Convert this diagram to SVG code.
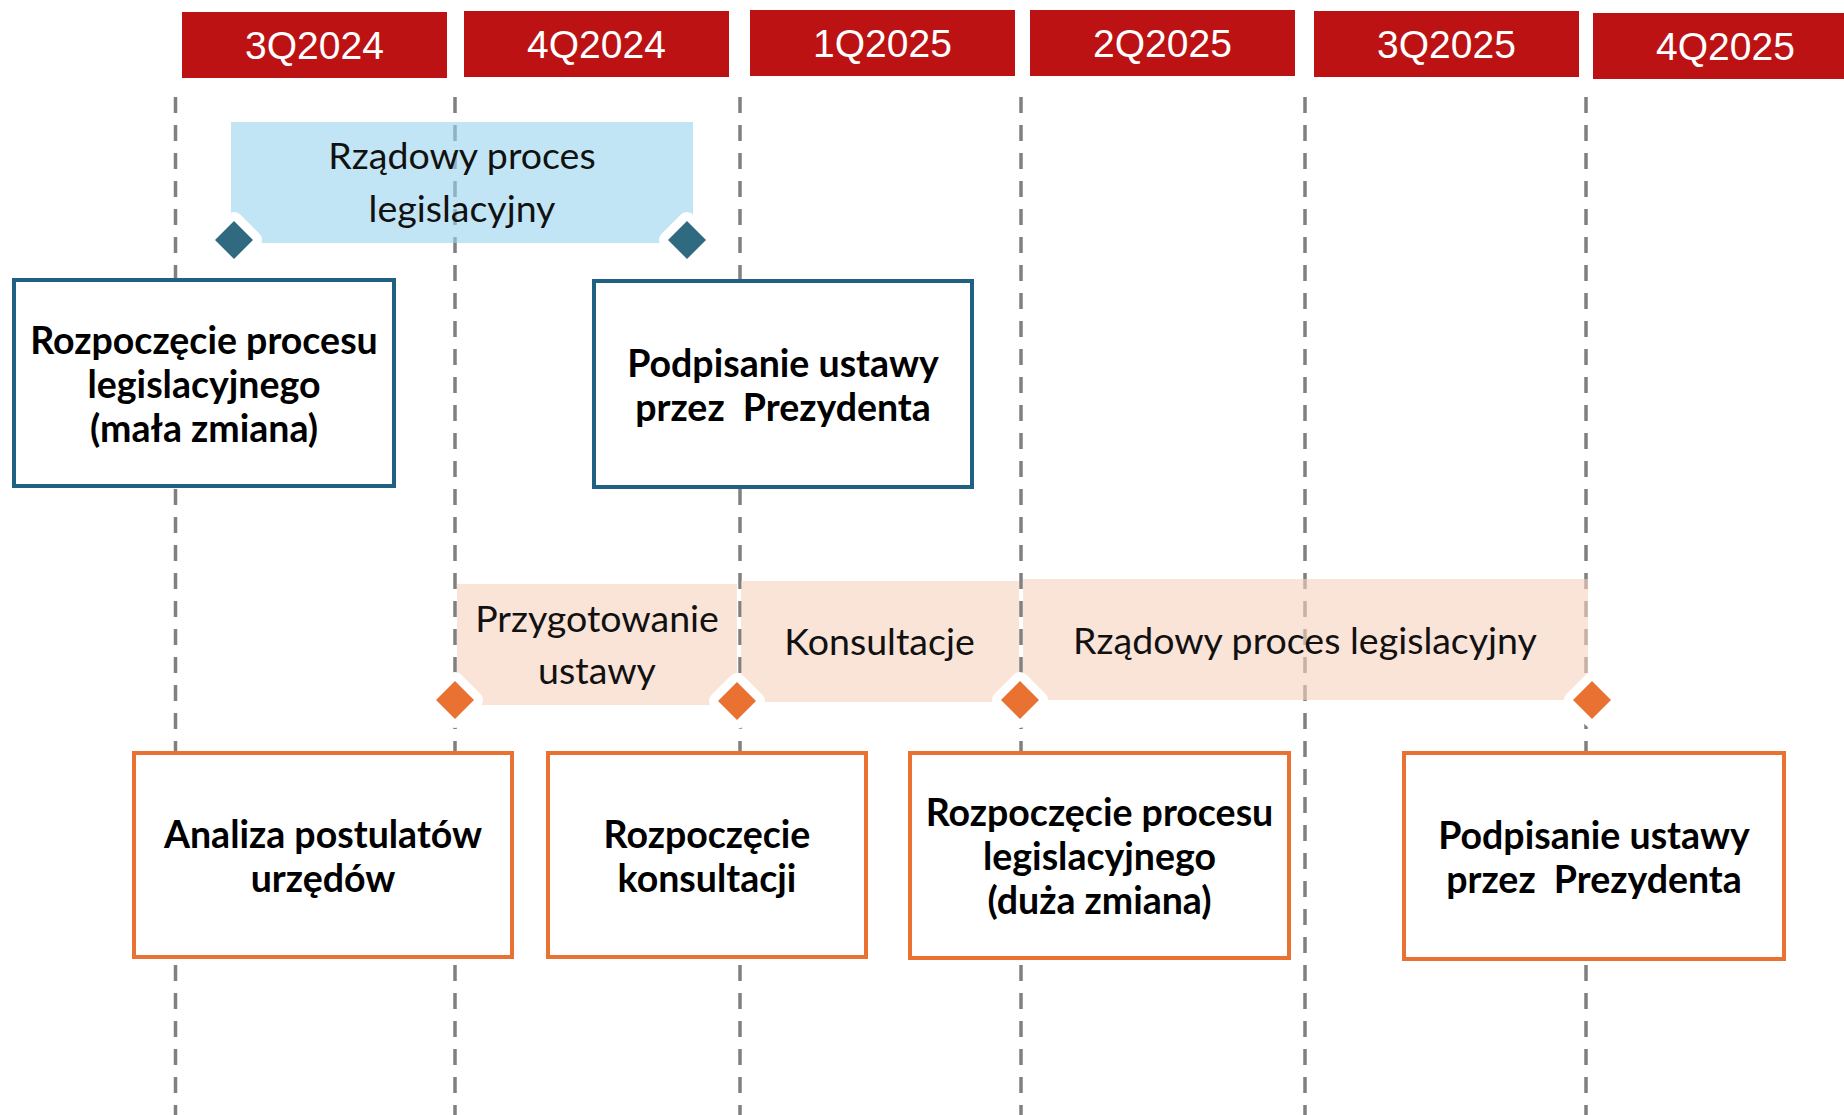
<svg xmlns="http://www.w3.org/2000/svg" width="1844" height="1115" viewBox="0 0 1844 1115">
<style>
.hdr{fill:#BC1214}
.hdrt{font-family:"Liberation Sans",Arial,sans-serif;font-size:39px;fill:#ffffff;text-anchor:middle}
.grid{stroke:#808080;stroke-width:3.5;stroke-dasharray:16 12;fill:none}
.bandB{fill:#99D4EE;fill-opacity:0.6}
.bandO{fill:#F7D0BC;fill-opacity:0.6}
.bt{font-family:Lato,"Noto Sans",sans-serif;font-size:37.5px;fill:#111;text-anchor:middle}
.boxB{fill:#fff;stroke:#1F6083;stroke-width:4}
.boxO{fill:#fff;stroke:#E97132;stroke-width:4}
.nt{font-family:Lato,"Noto Sans",sans-serif;font-weight:bold;font-size:37.5px;fill:#000;text-anchor:middle;white-space:pre}
.dB{fill:#306A81;stroke:#fff;stroke-width:18;stroke-linejoin:round;paint-order:stroke}
.dO{fill:#E97132;stroke:#fff;stroke-width:18;stroke-linejoin:round;paint-order:stroke}
</style>
<defs>
<path id="dia" d="M0,-19 L19,0 L0,19 L-19,0 Z"/>
</defs>
<rect width="1844" height="1115" fill="#fff"/>

<g id="headers">
<g id="q3-2024"><rect class="hdr" x="182" y="12" width="265" height="66"/><text class="hdrt" x="314.5" y="59">3Q2024</text></g>
<g id="q4-2024"><rect class="hdr" x="464" y="11" width="265" height="66"/><text class="hdrt" x="596.5" y="58">4Q2024</text></g>
<g id="q1-2025"><rect class="hdr" x="750" y="10" width="265" height="66"/><text class="hdrt" x="882.5" y="57">1Q2025</text></g>
<g id="q2-2025"><rect class="hdr" x="1030" y="10" width="265" height="66"/><text class="hdrt" x="1162.5" y="57">2Q2025</text></g>
<g id="q3-2025"><rect class="hdr" x="1314" y="11" width="265" height="66"/><text class="hdrt" x="1446.5" y="58">3Q2025</text></g>
<g id="q4-2025"><rect class="hdr" x="1593" y="13" width="265" height="66"/><text class="hdrt" x="1725.5" y="60">4Q2025</text></g>
</g>

<g id="gridlines">
<line class="grid" x1="175.5" y1="97" x2="175.5" y2="1115"/>
<line class="grid" x1="455" y1="97" x2="455" y2="1115"/>
<line class="grid" x1="740" y1="97" x2="740" y2="1115"/>
<line class="grid" x1="1021" y1="97" x2="1021" y2="1115"/>
<line class="grid" x1="1305" y1="97" x2="1305" y2="1115"/>
<line class="grid" x1="1586" y1="97" x2="1586" y2="1115"/>
</g>

<g id="bands">
<g id="band-rzadowy-1"><rect class="bandB" x="231" y="122" width="462" height="121"/>
<text class="bt" x="462" y="169">Rządowy proces</text>
<text class="bt" x="462" y="222">legislacyjny</text></g>
<g id="band-przygotowanie"><rect class="bandO" x="457" y="584" width="280" height="121"/>
<text class="bt" x="597" y="632">Przygotowanie</text>
<text class="bt" x="597" y="684">ustawy</text></g>
<g id="band-konsultacje"><rect class="bandO" x="741" y="581" width="278" height="121"/>
<text class="bt" x="879.5" y="655">Konsultacje</text></g>
<g id="band-rzadowy-2"><rect class="bandO" x="1023" y="579" width="565" height="121"/>
<text class="bt" x="1305" y="654">Rządowy proces legislacyjny</text></g>
</g>

<g id="node-rozpoczecie-mala">
<rect class="boxB" x="14" y="280" width="380" height="206"/>
<text class="nt" x="204" y="353.5">Rozpoczęcie procesu</text>
<text class="nt" x="204" y="397.5">legislacyjnego</text>
<text class="nt" x="204" y="441.5">(mała zmiana)</text>
</g>
<g id="node-podpisanie-1">
<rect class="boxB" x="594" y="281" width="378" height="206"/>
<text class="nt" x="783" y="376.5">Podpisanie ustawy</text>
<text class="nt" x="783" y="420.5">przez  Prezydenta</text>
</g>
<g id="node-analiza">
<rect class="boxO" x="134" y="753" width="378" height="204"/>
<text class="nt" x="323" y="847.5">Analiza postulatów</text>
<text class="nt" x="323" y="891.5">urzędów</text>
</g>
<g id="node-rozpoczecie-konsultacji">
<rect class="boxO" x="548" y="753" width="318" height="204"/>
<text class="nt" x="707" y="847.5">Rozpoczęcie</text>
<text class="nt" x="707" y="891.5">konsultacji</text>
</g>
<g id="node-rozpoczecie-duza">
<rect class="boxO" x="910" y="753" width="379" height="205"/>
<text class="nt" x="1099.5" y="825.5">Rozpoczęcie procesu</text>
<text class="nt" x="1099.5" y="869.5">legislacyjnego</text>
<text class="nt" x="1099.5" y="913.5">(duża zmiana)</text>
</g>
<g id="node-podpisanie-2">
<rect class="boxO" x="1404" y="753" width="380" height="206"/>
<text class="nt" x="1594" y="848.5">Podpisanie ustawy</text>
<text class="nt" x="1594" y="892.5">przez  Prezydenta</text>
</g>

<g id="milestones">
<g id="m1"><use href="#dia" class="dB" x="234" y="240"/></g>
<g id="m2"><use href="#dia" class="dB" x="687" y="240"/></g>
<g id="m3"><use href="#dia" class="dO" x="455" y="700"/></g>
<g id="m4"><use href="#dia" class="dO" x="737" y="701"/></g>
<g id="m5"><use href="#dia" class="dO" x="1020" y="700"/></g>
<g id="m6"><use href="#dia" class="dO" x="1592" y="700"/></g>
</g>
</svg>
